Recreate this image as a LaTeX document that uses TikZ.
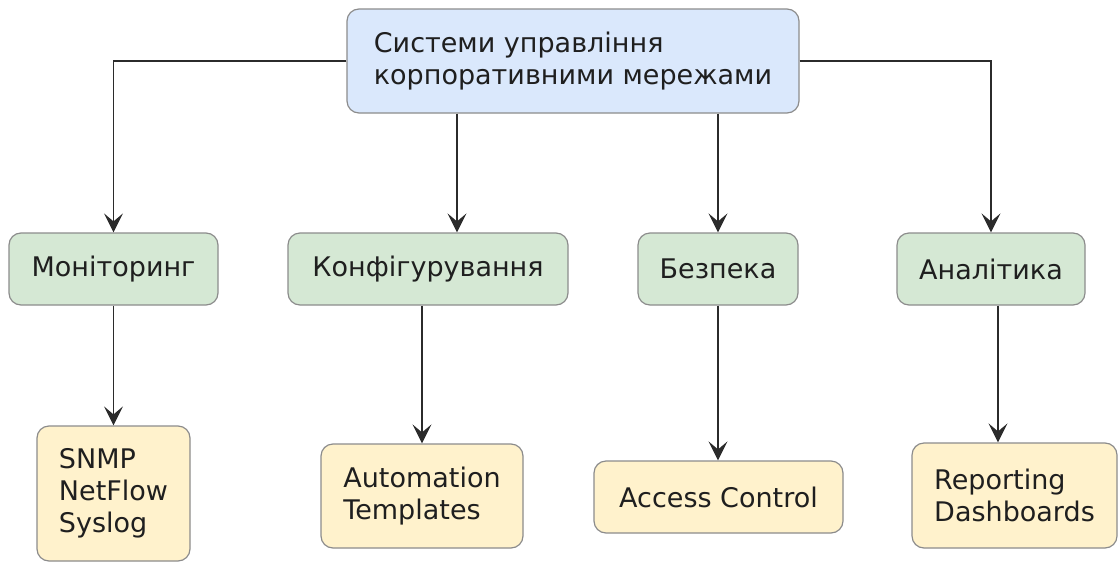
\documentclass[tikz,border=0pt]{standalone}
\usepackage{fontspec}
\setmainfont{DejaVu Sans}
\usetikzlibrary{arrows.meta}
\definecolor{topfill}{HTML}{DAE8FC}
\definecolor{midfill}{HTML}{D5E8D4}
\definecolor{leaffill}{HTML}{FFF2CC}
\definecolor{boxline}{HTML}{8C8C8C}
\definecolor{conn}{HTML}{2B2B2B}
\begin{document}
\begin{tikzpicture}[x=1pt,y=-1pt,
  box/.style={draw=boxline, line width=1.2pt, rounded corners=12pt, inner sep=0pt,
    font=\fontsize{27}{32}\selectfont, text=black!88, align=left},
  topbox/.style={box, fill=topfill},
  midbox/.style={box, fill=midfill},
  leafbox/.style={box, fill=leaffill},
  arr/.style={draw=conn, line width=1.6pt, -{Stealth[length=19pt,width=19pt,inset=8pt]}}
]
\useasboundingbox (0,0) rectangle (1118,562);
\node[topbox, minimum width=452pt, minimum height=104pt] (top) at (573,61)
  {Системи управління\\корпоративними мережами};
\node[midbox, minimum width=209pt, minimum height=72pt] (mon) at (113.5,269) {Моніторинг};
\node[midbox, minimum width=280pt, minimum height=72pt] (conf) at (428,269) {Конфігурування};
\node[midbox, minimum width=160pt, minimum height=72pt] (bez) at (718,269) {Безпека};
\node[midbox, minimum width=188pt, minimum height=72pt] (anal) at (991,269) {Аналітика};
\node[leafbox, minimum width=153pt, minimum height=135pt] (snmp) at (113.5,493.5) {SNMP\\NetFlow\\Syslog};
\node[leafbox, minimum width=202pt, minimum height=104pt] (auto) at (422,496) {Automation\\Templates};
\node[leafbox, minimum width=249pt, minimum height=72pt] (acc) at (718.5,497) {Access Control};
\node[leafbox, minimum width=205pt, minimum height=105pt] (rep) at (1014.5,495.5) {Reporting\\Dashboards};

\draw[arr] (top.west) -| (mon.north);
\draw[arr] ([xshift=29pt]conf.north |- top.south) -- ([xshift=29pt]conf.north);
\draw[arr] (bez.north |- top.south) -- (bez.north);
\draw[arr] (top.east) -| (anal.north);
\draw[arr] (mon.south) -- (snmp.north);
\draw[arr] (auto.north |- conf.south) -- (auto.north);
\draw[arr] (bez.south) -- (acc.north -| bez.south);
\draw[arr] ([xshift=7pt]anal.south) -- ([xshift=7pt]anal.south |- rep.north);
\end{tikzpicture}
\end{document}
